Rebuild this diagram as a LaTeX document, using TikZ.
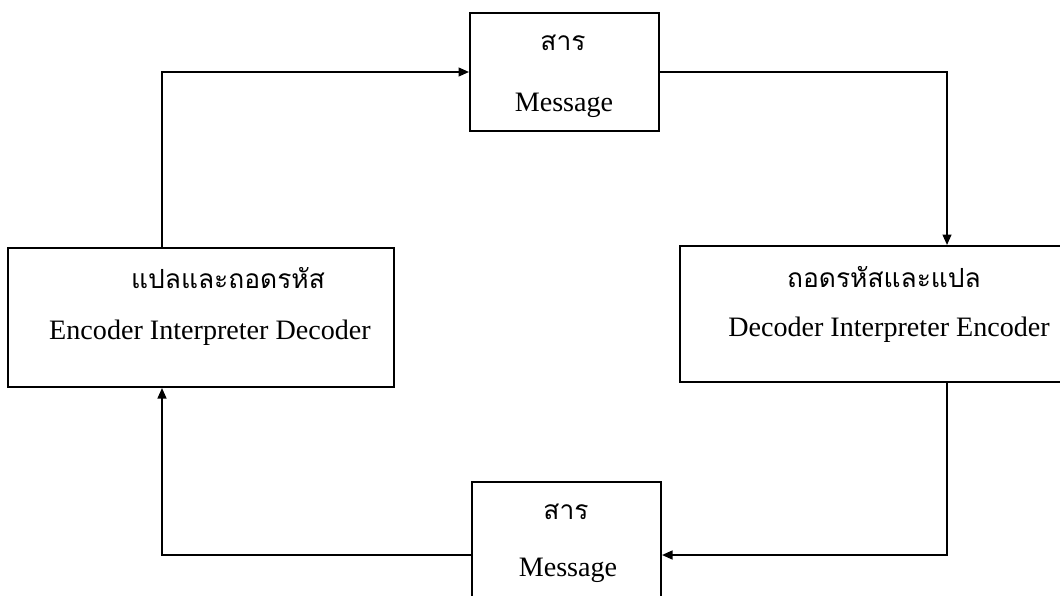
\documentclass[tikz,border=0pt]{standalone}
\usepackage{fontspec}
\setmainfont{Liberation Serif}
\newfontfamily\thaifont[Script=Thai]{Loma}
\usetikzlibrary{arrows.meta,positioning,calc}
\tikzset{
  comm/box/.style={draw, line width=1.1pt, inner sep=0pt},
  comm/thai/.style={font=\thaifont\fontsize{15}{18}\selectfont, inner sep=0pt},
  comm/eng/.style={font=\fontsize{16}{19}\selectfont, inner sep=0pt},
  comm/line/.style={line width=1.1pt, -{Triangle[length=6pt,width=5pt]}}
}

\begin{document}
\begin{tikzpicture}[x=0.02cm, y=-0.02cm]
  \clip (0,0) rectangle (1060,595);
  \useasboundingbox (0,0) rectangle (1060,595);

  % boxes
  \node[comm/box, minimum width=3.78cm, minimum height=2.36cm] (msgTop) at (564.5,72) {};
  \node[comm/box, minimum width=7.72cm, minimum height=2.78cm] (encBox) at (201,317.5) {};
  \node[comm/box, minimum width=8.2cm, minimum height=2.72cm] (decBox) at (885,314) {};
  \node[comm/box, minimum width=3.78cm, minimum height=2.36cm] (msgBot) at (566.5,541) {};

  % texts
  \node[comm/thai] (msgTopTh) at (563,43) {สาร};
  \node[comm/eng] (msgTopEn) at (564,105) {Message};
  \node[comm/thai] (encTh) at (228,278) {แปลและถอดรหัส};
  \node[comm/eng] (encEn) at (210,333) {Encoder Interpreter Decoder};
  \node[comm/thai] (decTh) at (884,277) {ถอดรหัสและแปล};
  \node[comm/eng] (decEn) at (889,330) {Decoder Interpreter Encoder};
  \node[comm/thai] (msgBotTh) at (566,512) {สาร};
  \node[comm/eng] (msgBotEn) at (568,570) {Message};

  % loop
  \coordinate (leftTurn) at (162,72);
  \coordinate (rightTurn) at (947,72);
  \coordinate (lowLeft) at (162,555);
  \coordinate (lowRight) at (947,555);
  \draw[comm/line] (encBox.north -| leftTurn) |- (msgTop.west);
  \draw[comm/line] (msgTop.east) -| (decBox.north -| rightTurn);
  \draw[comm/line] (decBox.south -| lowRight) |- (msgBot.east |- lowRight);
  \draw[comm/line] (msgBot.west |- lowLeft) -| (encBox.south -| lowLeft);
\end{tikzpicture}
\end{document}
